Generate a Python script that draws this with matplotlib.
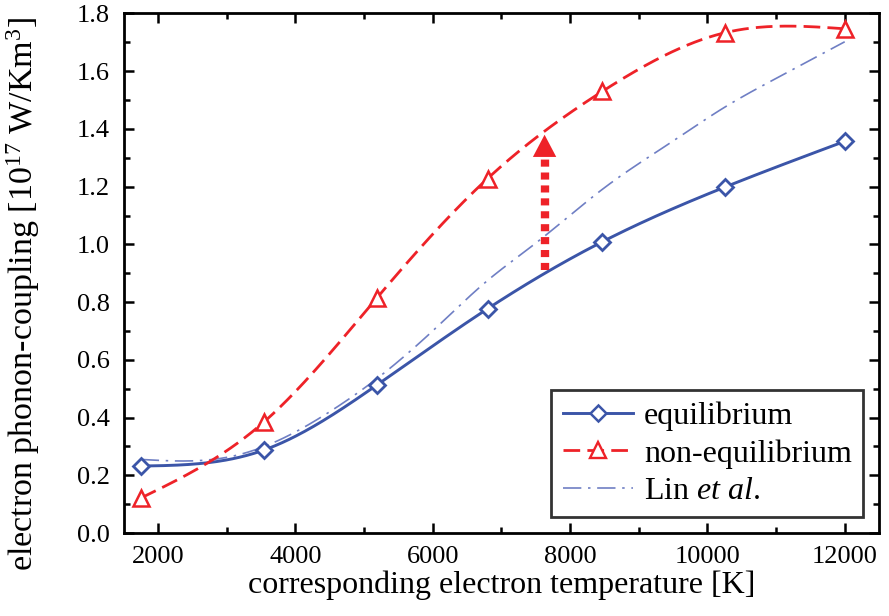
import numpy as np
import matplotlib
matplotlib.use("Agg")
import matplotlib.pyplot as plt
from matplotlib.lines import Line2D

plt.rcParams['font.family'] = ['Liberation Serif', 'DejaVu Serif']
plt.rcParams['mathtext.fontset'] = 'custom'
plt.rcParams['mathtext.rm'] = 'Liberation Serif'
plt.rcParams['mathtext.it'] = 'Liberation Serif:italic'

# ---- data ----
eq_T = [1750, 3550, 5190, 6800, 8470, 10250, 12000]
eq_G = [0.232, 0.288, 0.513, 0.777, 1.009, 1.198, 1.357]

neq_T = [1750, 3550, 5190, 6800, 8470, 10250, 12000]
neq_G = [0.121, 0.386, 0.815, 1.228, 1.530, 1.733, 1.747]

lin_T = [1750, 2500, 3000, 3550, 4500, 5200, 6000, 6800, 7500, 8500, 9500, 10250, 11000, 12000]
lin_G = [0.255, 0.250, 0.262, 0.300, 0.420, 0.537, 0.700, 0.875, 1.004, 1.196, 1.358, 1.475, 1.575, 1.702]

arrow_T = 7630
arrow_from = 0.91
arrow_to = 1.38

xticks = [2000, 4000, 6000, 8000, 10000, 12000]
yticks = [0.0, 0.2, 0.4, 0.6, 0.8, 1.0, 1.2, 1.4, 1.6, 1.8]


def natural_spline(x, y, xs):
    x = np.asarray(x, float); y = np.asarray(y, float)
    n = len(x); h = np.diff(x)
    A = np.zeros((n, n)); r = np.zeros(n)
    A[0, 0] = 1; A[-1, -1] = 1
    for i in range(1, n - 1):
        A[i, i - 1] = h[i - 1]
        A[i, i] = 2 * (h[i - 1] + h[i])
        A[i, i + 1] = h[i]
        r[i] = 3 * ((y[i + 1] - y[i]) / h[i] - (y[i] - y[i - 1]) / h[i - 1])
    c = np.linalg.solve(A, r)
    b = (y[1:] - y[:-1]) / h - h * (2 * c[:-1] + c[1:]) / 3
    d = (c[1:] - c[:-1]) / (3 * h)
    idx = np.clip(np.searchsorted(x, xs) - 1, 0, n - 2)
    dx = xs - x[idx]
    return y[idx] + b[idx] * dx + c[idx] * dx ** 2 + d[idx] * dx ** 3


blue = '#3b55a8'
red = '#ee2228'
lin_c = '#6f7fc4'
red_ls = (0, (6, 2.6))
lin_ls = (0, (11, 4, 1.5, 4))

fig = plt.figure(figsize=(8.89, 6.16), dpi=100)
ax = fig.add_axes([0.139, 0.1347, 0.8498, 0.8434])

xs = np.linspace(eq_T[0], eq_T[-1], 400)
ax.plot(xs, natural_spline(lin_T, lin_G, xs), color=lin_c, lw=1.2,
        ls=lin_ls, zorder=2)
ax.plot(xs, natural_spline(eq_T, eq_G, xs), color=blue, lw=2.1, zorder=3)
ax.plot(xs, natural_spline(neq_T, neq_G, xs), color=red, lw=2.0,
        ls=red_ls, zorder=3)
ax.plot(eq_T, eq_G, ls='none', marker='D', ms=8.5, mfc='white', mec=blue,
        mew=2.0, zorder=4)
ax.plot(neq_T, neq_G, ls='none', marker='^', ms=12, mfc='white', mec=red,
        mew=1.8, zorder=4)

# red dotted arrow
ax.plot([arrow_T, arrow_T], [arrow_from, arrow_to - 0.08], color=red, lw=6,
        ls=(0, (0.85, 0.7)), solid_capstyle='butt', zorder=5)
ax.annotate('', xy=(arrow_T, arrow_to), xytext=(arrow_T, arrow_to - 0.08),
            arrowprops=dict(arrowstyle='-|>,head_length=0.8,head_width=0.42',
                            mutation_scale=20, color=red, lw=0,
                            shrinkA=0, shrinkB=0), zorder=5)

ax.set_xlim(1500, 12500)
ax.set_ylim(0, 1.8)
ax.set_xticks(xticks)
ax.set_xticklabels([str(t) for t in xticks])
ax.set_yticks(yticks)
ax.set_yticklabels([f'{t:.1f}' for t in yticks])
ax.set_xticks(np.arange(3000, 12500, 2000), minor=True)
ax.set_yticks(np.arange(0.1, 1.8, 0.2), minor=True)
ax.tick_params(which='both', direction='in', top=True, right=True,
               labelsize=19, width=1.8)
ax.tick_params(axis='x', which='both', pad=9)
ax.tick_params(axis='y', which='both', pad=10)
ax.tick_params(which='major', length=7)
ax.tick_params(which='minor', length=4)
for s in ax.spines.values():
    s.set_linewidth(2)

ax.set_xlabel('corresponding electron temperature [K]', fontsize=23, labelpad=2)
ax.set_ylabel(r'electron phonon-coupling [10$^{17}$ W/Km$^{3}$]', fontsize=24.5)
ax.yaxis.set_label_coords(-0.108, 0.46)

handles = [
    Line2D([], [], color=blue, lw=2.1, marker='D', ms=8, mfc='white', mec=blue, mew=1.8),
    Line2D([], [], color=red, lw=2.0, ls=red_ls, marker='^', ms=11, mfc='white', mec=red, mew=1.7),
    Line2D([], [], color=lin_c, lw=1.2, ls=lin_ls),
]
leg = ax.legend(handles, ['equilibrium', 'non-equilibrium', r'Lin $\mathit{et\ al}$.'],
                loc='lower right', fontsize=23, frameon=True, fancybox=False,
                edgecolor='black', handlelength=2.2, handletextpad=0.35,
                borderaxespad=0.5, borderpad=0.35, labelspacing=0.25,
                numpoints=1)
leg.get_frame().set_linewidth(2)

fig.savefig('out.png', dpi=100)
